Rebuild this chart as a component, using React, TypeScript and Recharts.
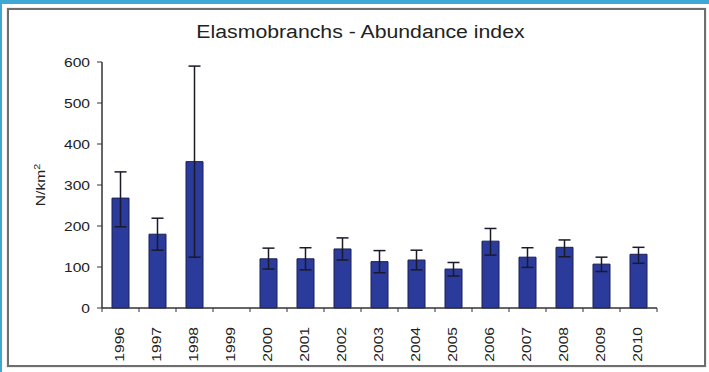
import React from "react"
import { BarChart, Bar, XAxis, YAxis, ErrorBar } from "recharts"

// values
const years = ["1996", "1997", "1998", "1999", "2000", "2001", "2002", "2003", "2004", "2005", "2006", "2007", "2008", "2009", "2010"]
const abundance = [268, 180, 357, null, 120, 120, 144, 113, 117, 95, 163, 124, 148, 107, 131]
const errLow = [70, 39, 233, null, 25, 27, 27, 27, 24, 17, 34, 25, 23, 18, 22]
const errHigh = [64, 39, 233, null, 26, 27, 27, 27, 24, 16, 31, 23, 18, 17, 17]
const yTicks = [0, 100, 200, 300, 400, 500, 600]

const data = years.map((year, i) => ({
  year,
  value: abundance[i],
  err: abundance[i] == null ? null : [errLow[i], errHigh[i]],
}))

const CHART_W = 709
const CHART_H = 372
const MARGIN = { top: 62, right: 52, left: 0, bottom: 0 }
const Y_AXIS_W = 102
const X_AXIS_H = 64
const BAND = (CHART_W - MARGIN.left - MARGIN.right - Y_AXIS_W) / years.length

const FONT = "'Liberation Sans', Arial, sans-serif"
const AXIS_COLOR = "#333"

function YTick({ x, y, payload }: any) {
  return (
    <text
      transform={`translate(${x},${y + 4.5}) scale(1.2,1)`}
      textAnchor="end"
      fontFamily={FONT}
      fontSize={13}
      fill="#222"
    >
      {payload.value}
    </text>
  )
}

function XTick({ x, y, payload, index }: any) {
  const axisY = y - 4
  const last = index === years.length - 1
  return (
    <g>
      <line x1={x - BAND / 2} x2={x - BAND / 2} y1={axisY} y2={axisY + 4} stroke={AXIS_COLOR} />
      {last && <line x1={x + BAND / 2} x2={x + BAND / 2} y1={axisY} y2={axisY + 4} stroke={AXIS_COLOR} />}
      <text
        transform={`translate(${x + 3},${axisY + 19}) rotate(-90) scale(1.2,1)`}
        textAnchor="end"
        fontFamily={FONT}
        fontSize={13}
        fill="#222"
      >
        {payload.value}
      </text>
    </g>
  )
}

export default function App() {
  return (
    <div style={{ position: "fixed", left: 0, top: 0, width: CHART_W, height: CHART_H, background: "#fff", overflow: "hidden" }}>
      <div style={{ position: "absolute", left: 0, top: 0, width: CHART_W, height: 4, background: "#3fa7d3" }} />
      <div style={{ position: "absolute", left: 0, top: 0, width: 2, height: CHART_H, background: "#3fa7d3" }} />
      <div
        style={{
          position: "absolute",
          left: 7,
          top: 8,
          width: 695,
          height: 355,
          border: "2px solid #6e6e6e",
          boxShadow: "0 0 1px #999",
        }}
      />
      <div
        style={{
          position: "absolute",
          left: 0,
          width: CHART_W + 12,
          top: 22,
          textAlign: "center",
          fontFamily: FONT,
          fontSize: 18,
          color: "#222",
          transform: "scaleX(1.18)",
        }}
      >
        Elasmobranchs - Abundance index
      </div>
      <div
        style={{
          position: "absolute",
          left: 40,
          top: 185,
          fontFamily: FONT,
          fontSize: 13,
          color: "#222",
          whiteSpace: "nowrap",
          transform: "translate(-50%,-50%) rotate(-90deg) scaleX(1.2)",
        }}
      >
        N/km<sup style={{ fontSize: 9 }}>2</sup>
      </div>
      <div style={{ position: "absolute", left: 0, top: 0 }}>
        <BarChart width={CHART_W} height={CHART_H} data={data} margin={MARGIN} barCategoryGap={0}>
          <XAxis
            dataKey="year"
            height={X_AXIS_H}
            interval={0}
            tickLine={false}
            tickSize={4}
            tickMargin={0}
            axisLine={{ stroke: AXIS_COLOR, strokeWidth: 1.5 }}
            tick={<XTick />}
          />
          <YAxis
            width={Y_AXIS_W}
            domain={[0, 600]}
            ticks={yTicks}
            interval={0}
            tickSize={5}
            tickMargin={7}
            tickLine={{ stroke: AXIS_COLOR }}
            axisLine={{ stroke: AXIS_COLOR, strokeWidth: 1.5 }}
            tick={<YTick />}
          />
          <Bar dataKey="value" barSize={17} fill="#2b3b9b" stroke="#1a1e55" strokeWidth={1} isAnimationActive={false}>
            <ErrorBar dataKey="err" width={6} stroke="#1a1a2a" strokeWidth={1.5} direction="y" />
          </Bar>
        </BarChart>
      </div>
    </div>
  )
}
